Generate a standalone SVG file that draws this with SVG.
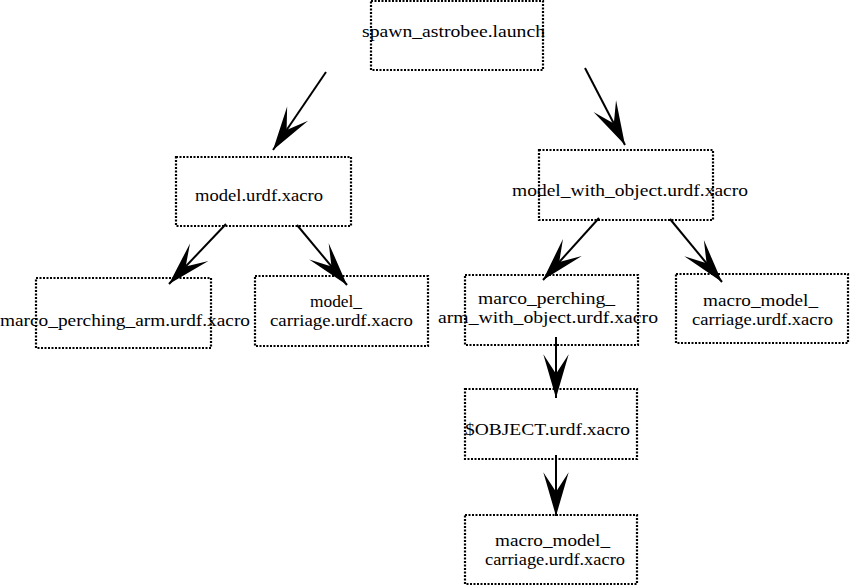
<svg xmlns="http://www.w3.org/2000/svg" width="850" height="587" viewBox="0 0 850 587">
<style>
.box{fill:none;stroke:#000;stroke-width:2.2;stroke-dasharray:2 1.5}
.lbl{font-family:"Liberation Serif","DejaVu Serif",serif;font-size:17px;fill:#000}
.lbl2{font-family:"Liberation Serif","DejaVu Serif",serif;font-size:16px;fill:#000}
.edge{stroke:#000;stroke-width:2;fill:none;marker-end:url(#ah)}
</style>
<defs>
<marker id="ah" markerUnits="userSpaceOnUse" markerWidth="50" markerHeight="30" refX="0" refY="0" viewBox="-40 -13 42 26" orient="auto" overflow="visible">
<path d="M0,0 L-38,-11 L-21,0 L-38,11 Z" fill="#000"/>
</marker>
</defs>
<rect width="850" height="587" fill="#fff"/>
<g id="edges">
<line class="edge" x1="326" y1="72" x2="273" y2="150"/>
<line class="edge" x1="585" y1="68" x2="625" y2="145"/>
<line class="edge" x1="226" y1="224" x2="169" y2="284"/>
<line class="edge" x1="297" y1="225" x2="347" y2="285"/>
<line class="edge" x1="599" y1="218" x2="543" y2="280"/>
<line class="edge" x1="670" y1="219" x2="722" y2="282"/>
<line class="edge" x1="556" y1="337" x2="556" y2="398"/>
<line class="edge" x1="556" y1="455" x2="556" y2="516"/>
</g>
<g id="spawn">
<rect class="box" x="371" y="1" width="172" height="69"/>
<text class="lbl" x="362" y="37" textLength="183" lengthAdjust="spacingAndGlyphs">spawn_astrobee.launch</text>
</g>
<g id="model">
<rect class="box" x="176" y="157" width="175" height="69"/>
<text class="lbl" x="195" y="201" textLength="128" lengthAdjust="spacingAndGlyphs">model.urdf.xacro</text>
</g>
<g id="model_with_object">
<rect class="box" x="539" y="150" width="174" height="70"/>
<text class="lbl" x="512" y="196" textLength="236" lengthAdjust="spacingAndGlyphs">model_with_object.urdf.xacro</text>
</g>
<g id="marco_perching_arm">
<rect class="box" x="36" y="278" width="175" height="70"/>
<text class="lbl" x="0" y="326" textLength="250" lengthAdjust="spacingAndGlyphs">marco_perching_arm.urdf.xacro</text>
</g>
<g id="model_carriage">
<rect class="box" x="255" y="276" width="173" height="70"/>
<text class="lbl2" x="310" y="307" textLength="52" lengthAdjust="spacingAndGlyphs">model_</text>
<text class="lbl2" x="270" y="326" textLength="143" lengthAdjust="spacingAndGlyphs">carriage.urdf.xacro</text>
</g>
<g id="marco_perching_arm_with_object">
<rect class="box" x="465" y="275" width="173" height="70"/>
<text class="lbl2" x="478" y="304" textLength="137" lengthAdjust="spacingAndGlyphs">marco_perching_</text>
<text class="lbl2" x="438" y="323" textLength="220" lengthAdjust="spacingAndGlyphs">arm_with_object.urdf.xacro</text>
</g>
<g id="macro_model_carriage_right">
<rect class="box" x="676" y="274" width="172" height="69"/>
<text class="lbl2" x="703" y="306" textLength="115" lengthAdjust="spacingAndGlyphs">macro_model_</text>
<text class="lbl2" x="692" y="325" textLength="141" lengthAdjust="spacingAndGlyphs">carriage.urdf.xacro</text>
</g>
<g id="object">
<rect class="box" x="465" y="389" width="172" height="70"/>
<text class="lbl" x="465" y="435" textLength="165" lengthAdjust="spacingAndGlyphs">$OBJECT.urdf.xacro</text>
</g>
<g id="macro_model_carriage_bottom">
<rect class="box" x="465" y="515" width="172" height="69"/>
<text class="lbl2" x="495" y="546" textLength="115" lengthAdjust="spacingAndGlyphs">macro_model_</text>
<text class="lbl2" x="485" y="565" textLength="140" lengthAdjust="spacingAndGlyphs">carriage.urdf.xacro</text>
</g>
</svg>
